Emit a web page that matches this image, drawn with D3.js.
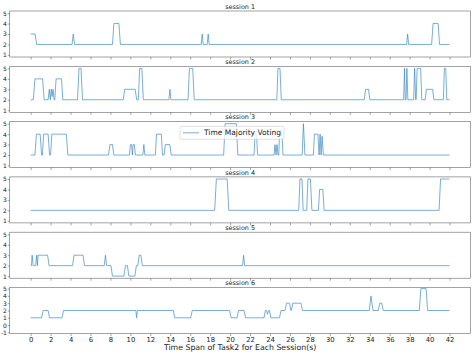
<!DOCTYPE html>
<html>
<head>
<meta charset="utf-8">
<script src="https://cdn.jsdelivr.net/npm/d3@7"></script>
<style>
  html, body { margin: 0; padding: 0; background: #fff; }
  svg { display: block; font-family: "DejaVu Sans", sans-serif; }
</style>
</head>
<body>
<svg id="chart" width="474" height="356"></svg>
<script>
// ---- data (time in s, majority-vote level) ----
const titles = ["session 1", "session 2", "session 3", "session 4", "session 5", "session 6"];
const xTicks = [0,2,4,6,8,10,12,14,16,18,20,22,24,26,28,30,32,34,36,38,40,42];
const yTicksA = [1,2,3,4,5];
const yTicksB = [-1,0,1,2,3,4,5];
const legendLabel = "Time Majority Voting";
const xLabel = "Time Span of Task2 for Each Session(s)";

const session1 = [
  [0,3],[0.45,3],[0.6,2],
  [4.15,2],[4.27,3],[4.4,2],
  [8.2,2],[8.35,4],[8.85,4],[9.0,2],
  [17.1,2],[17.2,3],[17.3,2],
  [17.7,2],[17.8,3],[17.9,2],
  [37.7,2],[37.8,3],[37.9,2],
  [40.2,2],[40.35,4],[40.85,4],[41.0,2],
  [42,2]
];
const session2 = [
  [0,2],[0.27,2],[0.43,4],[1.2,4],[1.35,2],
  [1.75,2],[1.87,3],[1.97,2],[2.07,3],[2.15,2.3],[2.25,3],[2.35,2],[2.42,2],[2.55,4],[3.1,4],[3.22,2],
  [4.7,2],[4.85,5],[5.05,5],[5.2,2],
  [9.28,2],[9.43,3],[10.48,3],[10.63,2],
  [10.8,2],[10.93,5],[11.15,5],[11.3,2],
  [13.86,2],[13.96,3],[14.06,2],
  [15.78,2],[15.92,5],[16.25,5],[16.4,2],
  [24.68,2],[24.8,5],[25.0,5],[25.13,2],
  [33.45,2],[33.58,3],[33.88,3],[34.0,2],
  [37.4,2],[37.48,5],[37.56,2],[37.64,2],[37.72,5],[37.82,2],
  [38.4,2],[38.5,5],[38.6,2],[38.65,2],[38.75,5],[39.1,5],[39.22,2],
  [39.55,2],[39.68,3],[40.3,3],[40.43,2],
  [41.38,2],[41.48,5],[41.62,5],[41.72,2],[42,2]
];
const session3 = [
  [0,2],[0.43,2],[0.58,4],[0.95,4],[1.1,2],[1.18,2],[1.3,4],[1.75,4],[1.9,2],[2.0,2],[2.12,4],[3.58,4],[3.73,2],
  [7.8,2],[7.95,3],[8.2,3],[8.35,2],
  [9.9,2],[10.0,3],[10.12,3],[10.2,2],[10.28,3],[10.4,3],[10.5,2],
  [11.25,2],[11.35,3],[11.45,2],
  [12.5,2],[12.62,4],[13.1,4],[13.22,2],[13.38,2],[13.5,3],[13.95,3],[14.1,2],
  [19.35,2],[19.5,5],[20.62,5],[20.77,2],
  [22.4,2],[22.5,4],[22.65,4],[22.75,2],
  [24.4,2],[24.5,3],[24.6,2],[24.7,3],[24.8,2],[24.88,2],[24.95,4],[25.2,4],[25.3,2],
  [27.22,2],[27.35,5],[27.5,2],
  [28.35,2],[28.45,4],[28.8,4],[28.92,2],[29.02,4],[29.12,2],[29.22,3.8],[29.35,2],
  [42,2]
];
const session4 = [
  [0,2],[18.45,2],[18.62,5],[19.7,5],[19.87,2],
  [26.88,2],[27.0,5],[27.2,5],[27.32,2],[27.68,2],[27.8,5],[28.05,5],[28.2,2],
  [28.85,2],[28.97,4],[29.3,4],[29.42,2],
  [40.95,2],[41.1,5],[42,5]
];
const session5 = [
  [0,2],[0.08,2],[0.15,3],[0.25,2],[0.5,2],[0.6,3],[0.68,2],[0.75,3],[1.7,3],[1.85,2],
  [4.2,2],[4.35,3],[5.25,3],[5.4,2],
  [7.38,2],[7.5,3],[7.62,2],
  [8.05,2],[8.2,1],[9.35,1],[9.5,2],[9.7,2],[9.85,1],[10.45,1],[10.6,2],[10.75,2],[10.88,3],[11.05,3],[11.2,2],
  [21.25,2],[21.35,3],[21.45,2],
  [42,2]
];
const session6 = [
  [0,1],[1.1,1],[1.25,2],[1.75,2],[1.9,1],
  [3.15,1],[3.3,2],[10.55,2],[10.62,1],[10.7,2],
  [14.3,2],[14.45,1],[16.05,1],[16.2,2],
  [19.95,2],[20.1,1],[20.7,1],[20.85,2],
  [21.4,2],[21.55,1],[23.4,1],[23.53,2],[23.65,2],[23.75,1.5],[23.85,2],[23.95,2],[24.08,1],
  [24.95,1],[25.1,2],[25.5,2],[25.65,3],[25.95,3],[26.1,2],[26.15,2],[26.28,3],[27.1,3],[27.25,2],
  [33.95,2],[34.12,4],[34.32,2],
  [34.85,2],[35.0,3],[35.2,3],[35.35,2],
  [38.97,2],[39.12,5],[39.65,5],[39.8,2],[42,2]
];
const sessions = [session1, session2, session3, session4, session5, session6];
const yDomainA = [0.8, 5.2];
const yDomainB = [-1.15, 5.15];

// ---- layout ----
const svg = d3.select("#chart");
const left = 9.7, right = 470.5;
const panelH = 46, firstTop = 11, step = 55.3;
const lineColor = "#3a87c0";
const spineColor = "#666";

const x = d3.scaleLinear().domain([-2.1, 44.1]).range([left, right]);

sessions.forEach((data, i) => {
  const top = firstTop + i * step;
  const bottom = top + panelH;
  const last = i === sessions.length - 1;
  const y = d3.scaleLinear().domain(last ? yDomainB : yDomainA).range([bottom, top]);
  const g = svg.append("g");

  // line
  g.append("path")
    .datum(data)
    .attr("fill", "none")
    .attr("stroke", lineColor)
    .attr("stroke-width", 0.8)
    .attr("stroke-opacity", 0.85)
    .attr("stroke-linejoin", "round")
    .attr("d", d3.line().x(d => x(d[0])).y(d => y(d[1])));

  // axes
  const xa = g.append("g")
    .attr("transform", `translate(0,${bottom})`)
    .call(d3.axisBottom(x).tickValues(xTicks).tickSize(2.5).tickPadding(1.5)
      .tickFormat(last ? d3.format("d") : () => ""));
  const ya = g.append("g")
    .attr("transform", `translate(${left},0)`)
    .call(d3.axisLeft(y).tickValues(last ? yTicksB : yTicksA).tickSize(2).tickPadding(0.8)
      .tickFormat(d => String(d)));
  [xa, ya].forEach(a => {
    a.select(".domain").remove();
    a.selectAll(".tick line").attr("stroke", spineColor).attr("stroke-width", 0.6);
    a.selectAll(".tick text").attr("fill", "#222")
      .style("font-family", "'DejaVu Sans', sans-serif");
  });
  xa.selectAll(".tick text").style("font-size", "6.8px");
  ya.selectAll(".tick text").style("font-size", "6px");

  // frame
  g.append("rect")
    .attr("x", left).attr("y", top)
    .attr("width", right - left).attr("height", panelH)
    .attr("fill", "none").attr("stroke", spineColor).attr("stroke-width", 0.6);

  // title
  g.append("text")
    .attr("x", (left + right) / 2).attr("y", top - 2.2)
    .attr("text-anchor", "middle")
    .attr("fill", "#222")
    .style("font-size", "6.4px")
    .text(titles[i]);

  // legend in session 3
  if (i === 2) {
    const lg = g.append("g");
    lg.append("rect")
      .attr("x", 180).attr("y", top + 4.7)
      .attr("width", 104).attr("height", 13)
      .attr("rx", 1.5)
      .attr("fill", "#fff").attr("fill-opacity", 0.8)
      .attr("stroke", "#ccc").attr("stroke-width", 0.6);
    lg.append("line")
      .attr("x1", 183).attr("x2", 199)
      .attr("y1", top + 11.2).attr("y2", top + 11.2)
      .attr("stroke", lineColor).attr("stroke-width", 0.8).attr("stroke-opacity", 0.85);
    lg.append("text")
      .attr("x", 204).attr("y", top + 13.8)
      .attr("fill", "#222")
      .style("font-size", "7.5px")
      .text(legendLabel);
  }
});

// x label
svg.append("text")
  .attr("x", (left + right) / 2).attr("y", 350)
  .attr("text-anchor", "middle")
  .attr("fill", "#222")
  .style("font-size", "7.8px")
  .text(xLabel);
</script>
</body>
</html>
